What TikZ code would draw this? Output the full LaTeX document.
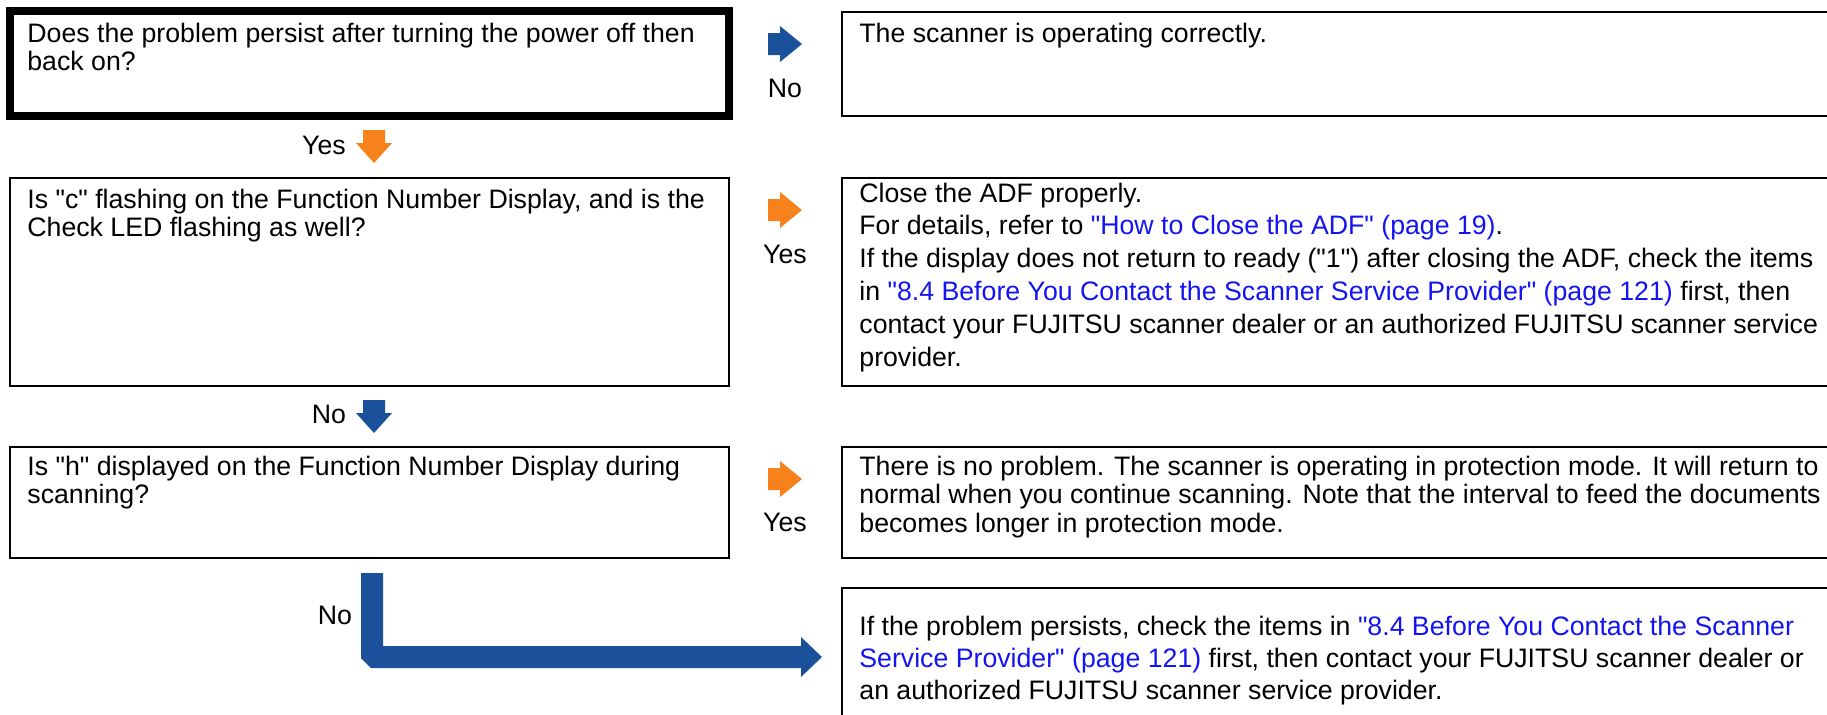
\documentclass[tikz,border=0pt]{standalone}
\usepackage{fontspec}
\newfontfamily\af{Liberation Sans}
\definecolor{fblue}{RGB}{27,81,155}
\definecolor{forange}{RGB}{247,130,27}
\definecolor{lnk}{RGB}{20,20,240}
\newcommand\lk[1]{{\color{lnk}#1}}
\begin{document}
\begin{tikzpicture}[x=0.5pt,y=-0.5pt,
  box/.style={draw=black,line width=1pt,rectangle,inner sep=0pt,outer sep=0pt,anchor=north west,minimum width=499pt},
  lbox/.style={box,minimum width=359.5pt},
  txt/.style={anchor=base west,inner sep=0pt,align=left,font=\af\fontsize{13.35}{14.25}\selectfont},
  wtxt/.style={txt,font=\af\fontsize{13.35}{16.4}\selectfont},
  lab/.style={anchor=center,inner sep=0pt,font=\af\fontsize{13.35}{14.25}\selectfont},
  rarr/.pic={\fill[pic actions] (0,-11) -- (12,-11) -- (12,-18) -- (34,0) -- (12,18) -- (12,11) -- (0,11) -- cycle;},
  darr/.pic={\fill[pic actions] (-11,0) -- (11,0) -- (11,13) -- (18,13) -- (0,33) -- (-18,13) -- (-11,13) -- cycle;}
]
\useasboundingbox (0,0) rectangle (1827,714);
% boxes
\node[lbox,line width=4pt,minimum height=52.5pt] (b1) at (10,11) {};
\node[box,minimum height=52pt] (b2) at (842,12) {};
\node[lbox,minimum height=104pt] (b3) at (10,178) {};
\node[box,minimum height=104pt] (b4) at (842,178) {};
\node[lbox,minimum height=55.5pt] (b5) at (10,447) {};
\node[box,minimum height=55.5pt] (b6) at (842,447) {};
\node[box,minimum height=71pt] (b7) at (842,588) {};
% texts (anchored at the baseline of their last line)
\node[txt] (t1) at (27,70.5) {Does the problem persist after turning the power off then\\back on?};
\node[txt] (t2) at (859,42) {The scanner is operating correctly.};
\node[txt] (t3) at (27,236.5) {Is "c" flashing on the Function Number Display, and is the\\Check LED flashing as well?};
\node[wtxt] (t4) at (859,366) {Close the ADF properly.\\
For details, refer to \lk{"How to Close the ADF" (page 19)}.\\
If the display does not return to ready ("1") after closing the ADF, check the items\\
in \lk{"8.4 Before You Contact the Scanner Service Provider" (page 121)} first, then\\
contact your FUJITSU scanner dealer or an authorized FUJITSU scanner service\\
provider.};
\node[txt] (t5) at (27,503.5) {Is "h" displayed on the Function Number Display during\\scanning?};
\node[txt] (t6) at (859,532) {There is no problem. The scanner is operating in protection mode. It will return to\\
normal when you continue scanning. Note that the interval to feed the documents\\
becomes longer in protection mode.};
\node[wtxt,font=\af\fontsize{13.35}{16}\selectfont] (t7) at (859,699) {If the problem persists, check the items in \lk{"8.4 Before You Contact the Scanner}\\
\lk{Service Provider" (page 121)} first, then contact your FUJITSU scanner dealer or\\
an authorized FUJITSU scanner service provider.};
% arrows and labels
\pic[fill=fblue] at (768,44) {rarr};
\node[lab] (n1) at (785,88) {No};
\pic[fill=forange] at (374,130) {darr};
\node[lab] (y1) at (324,145) {Yes};
\pic[fill=forange] at (768,210) {rarr};
\node[lab] (y2) at (785,254) {Yes};
\pic[fill=fblue] at (374,400) {darr};
\node[lab] (n2) at (329,414) {No};
\pic[fill=forange] at (768,479) {rarr};
\node[lab] (y3) at (785,522) {Yes};
\node[lab] (n3) at (335,615) {No};
\fill[fblue] (361,573) -- (383,573) -- (383,646) -- (801,646) -- (801,637) -- (822,657) -- (801,677) -- (801,668) -- (371,668) -- (361,658) -- cycle;
\end{tikzpicture}
\end{document}
